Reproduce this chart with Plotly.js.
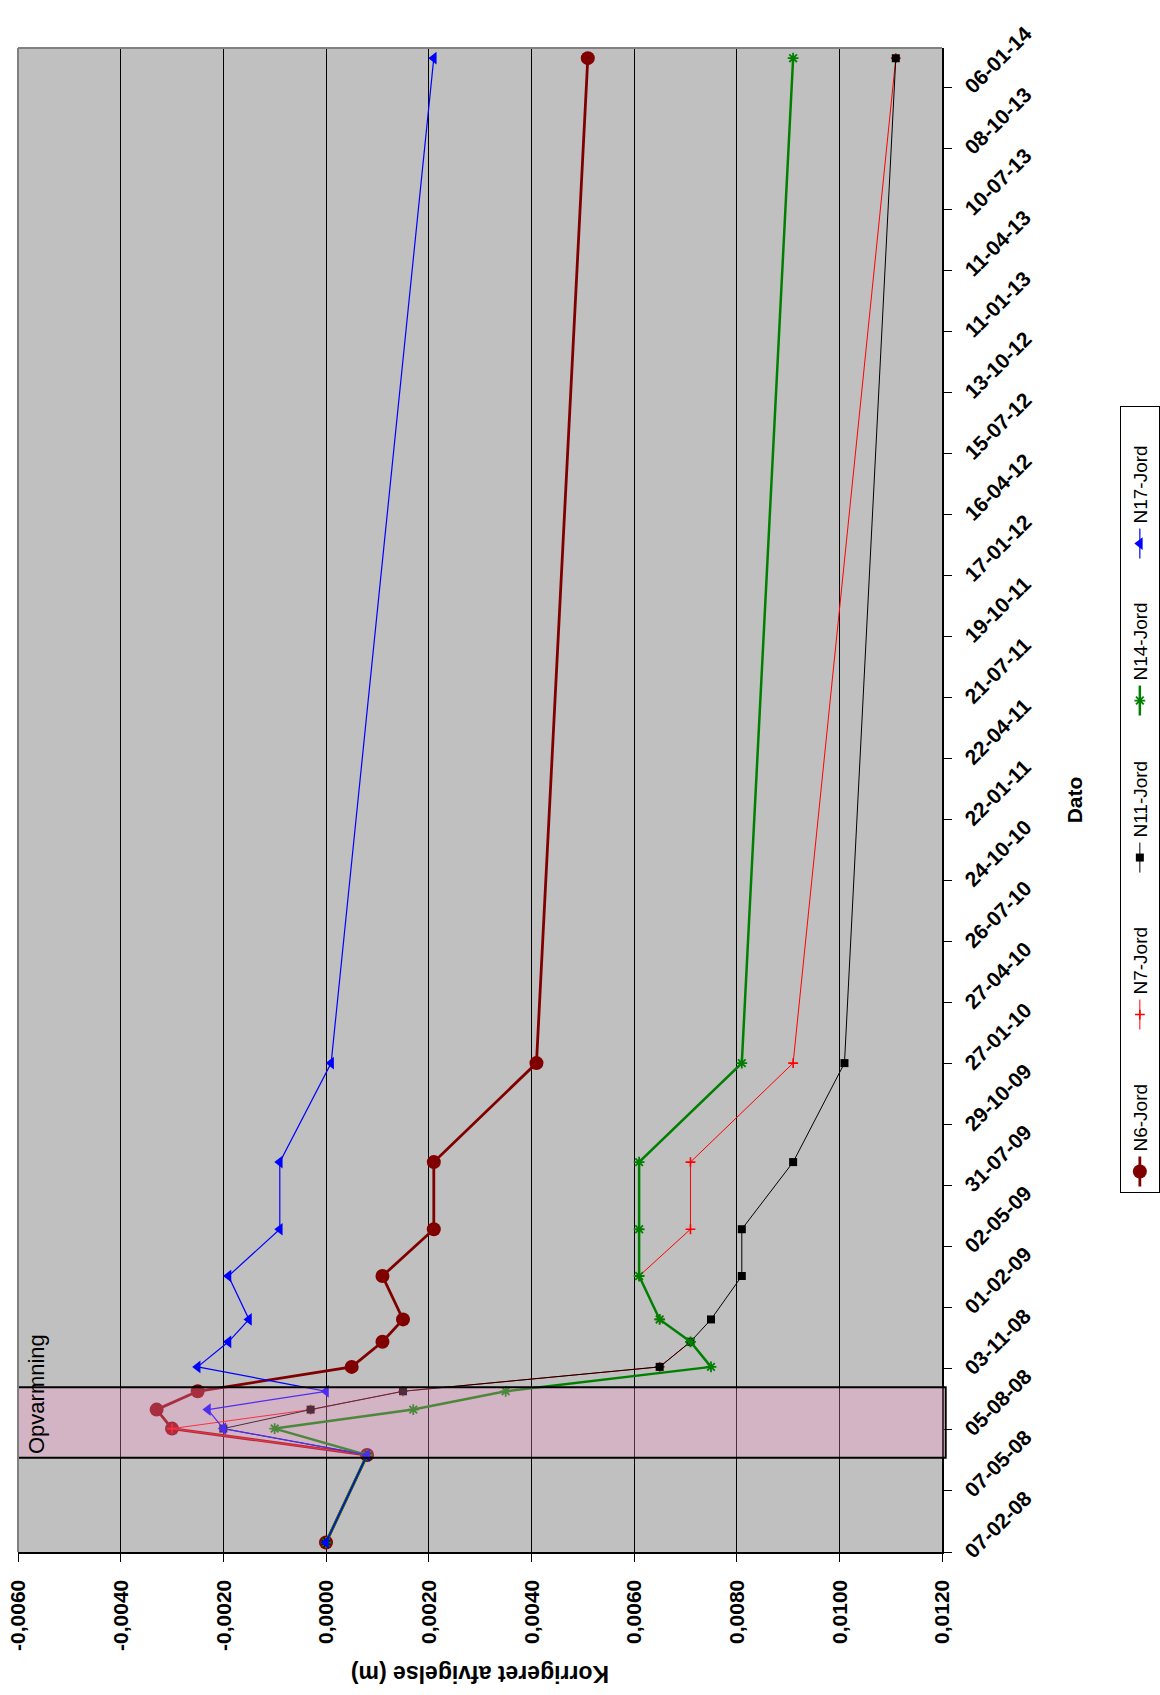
<!DOCTYPE html>
<html>
<head>
<meta charset="utf-8">
<script src="https://cdn.plot.ly/plotly-3.0.1.min.js"></script>
<style>
  html, body { margin: 0; padding: 0; background: #fff; overflow: hidden; width: 1160px; height: 1695px; }
  /* The chart is laid out landscape and turned a quarter turn counter-clockwise onto the portrait page */
  #chart { position: absolute; left: 0; top: 0; width: 1695px; height: 1160px;
           transform-origin: 0 0; transform: translate(0, 1695px) rotate(-90deg); }
</style>
</head>
<body>
<div id="chart"></div>
<script>
// Measurement dates (dd-mm-yy on the axis)
const dates = ['2008-02-21', '2008-06-29', '2008-08-07', '2008-09-04', '2008-10-01',
               '2008-11-06', '2008-12-13', '2009-01-15', '2009-03-20', '2009-05-28',
               '2009-09-04', '2010-01-28', '2014-02-18'];

// Corrected settlement (m) per benchmark
const n6  = [0.0000, 0.0008, -0.0030, -0.0033, -0.0025, 0.0005, 0.0011, 0.0015, 0.0011, 0.0021, 0.0021, 0.0041, 0.0051];
const n7  = [0.0000, 0.0008, -0.0030, -0.0003, 0.0015, 0.0065, 0.0071, 0.0065, 0.0061, 0.0071, 0.0071, 0.0091, 0.0111];
const n11 = [0.0000, 0.0008, -0.0020, -0.0003, 0.0015, 0.0065, 0.0071, 0.0075, 0.0081, 0.0081, 0.0091, 0.0101, 0.0111];
const n14 = [0.0000, 0.0008, -0.0010, 0.0017, 0.0035, 0.0075, 0.0071, 0.0065, 0.0061, 0.0061, 0.0061, 0.0081, 0.0091];
const n17 = [0.0000, 0.0008, -0.0020, -0.0023, 0.0000, -0.0025, -0.0019, -0.0015, -0.0019, -0.0009, -0.0009, 0.0001, 0.0021];

// Value axis ticks and their Danish-formatted labels
const valueTicks = [-0.006, -0.004, -0.002, 0, 0.002, 0.004, 0.006, 0.008, 0.010, 0.012];
const valueTickText = ['-0,0060', '-0,0040', '-0,0020', '0,0000', '0,0020', '0,0040',
                       '0,0060', '0,0080', '0,0100', '0,0120'];

// Heating period
const heatingStart = '2008-06-25';
const heatingEnd = '2008-10-07';
const heatingLabel = 'Opvarmning';

const FONT = 'Liberation Sans, Arial, sans-serif';

const traces = [
  { name: 'N6-Jord', x: dates, y: n6, mode: 'lines+markers',
    line: { color: '#800000', width: 2.8 },
    marker: { symbol: 'circle', size: 14, color: '#800000' } },
  { name: 'N7-Jord', x: dates, y: n7, mode: 'lines+markers',
    line: { color: '#FF0000', width: 1 },
    marker: { symbol: 'cross-thin-open', size: 7, color: '#FF0000', line: { color: '#FF0000', width: 1.6 } } },
  { name: 'N11-Jord', x: dates, y: n11, mode: 'lines+markers',
    line: { color: '#000000', width: 1 },
    marker: { symbol: 'square', size: 8, color: '#000000' } },
  { name: 'N14-Jord', x: dates, y: n14, mode: 'lines+markers',
    line: { color: '#008000', width: 2.5 },
    marker: { symbol: 'asterisk-open', size: 9, color: '#008000', line: { color: '#008000', width: 1.8 } } },
  { name: 'N17-Jord', x: dates, y: n17, mode: 'lines+markers',
    line: { color: '#0000FF', width: 1.2 },
    marker: { symbol: 'triangle-up', size: 11, color: '#0000FF' } }
];

const layout = {
  width: 1695,
  height: 1160,
  margin: { l: 143, r: 48, t: 18, b: 218, pad: 0, autoexpand: false },
  paper_bgcolor: '#FFFFFF',
  plot_bgcolor: '#C0C0C0',
  font: { family: FONT, color: '#000000' },
  showlegend: true,
  xaxis: {
    type: 'date',
    range: ['2008-02-07', '2014-03-05'],
    tick0: '2008-02-07',
    dtick: 90 * 86400000,
    tickformat: '%d-%m-%y',
    tickangle: 45,
    tickfont: { family: FONT, size: 21, weight: 'bold', color: '#000' },
    showgrid: false,
    zeroline: false,
    showline: true, linecolor: '#000', linewidth: 1.5,
    ticks: 'outside', ticklen: 8, tickcolor: '#000', tickwidth: 1,
    automargin: false,
    title: { text: 'Dato', font: { family: FONT, size: 21, weight: 'bold', color: '#000' }, standoff: 32 }
  },
  yaxis: {
    range: [0.012, -0.006],
    tickmode: 'array',
    tickvals: valueTicks,
    ticktext: valueTickText,
    tickfont: { family: FONT, size: 21, weight: 'bold', color: '#000' },
    showgrid: true, gridcolor: '#000', gridwidth: 1,
    zeroline: false,
    showline: true, linecolor: '#000', linewidth: 1.5,
    ticks: 'outside', ticklen: 8, tickcolor: '#000', tickwidth: 1,
    ticklabelstandoff: 14,
    automargin: false,
    title: { text: 'Korrigeret afvigelse (m)', font: { family: FONT, size: 23, weight: 'bold', color: '#000' }, standoff: 8 }
  },
  legend: {
    orientation: 'h',
    xref: 'paper', x: 0.239, xanchor: 'left',
    yref: 'container', y: 0, yanchor: 'bottom',
    bgcolor: '#FFFFFF',
    bordercolor: '#000000', borderwidth: 1,
    font: { family: FONT, size: 19, color: '#000' },
    entrywidth: 112, entrywidthmode: 'pixels',
    itemwidth: 30
  },
  shapes: [
    { type: 'rect', xref: 'x', yref: 'paper',
      x0: heatingStart, x1: heatingEnd, y0: -0.004, y1: 1,
      fillcolor: 'rgba(255,153,204,0.3)',
      line: { color: '#000000', width: 2 }, layer: 'above' },
    { type: 'line', xref: 'paper', yref: 'paper', x0: 0, x1: 1, y0: 1, y1: 1,
      line: { color: '#808080', width: 2 }, layer: 'above' },
    { type: 'line', xref: 'paper', yref: 'paper', x0: 1, x1: 1, y0: 0, y1: 1,
      line: { color: '#808080', width: 2 }, layer: 'above' }
  ],
  annotations: [
    { text: heatingLabel, xref: 'x', yref: 'paper',
      x: '2008-06-28', y: 1, xanchor: 'left', yanchor: 'top', yshift: -4,
      showarrow: false, font: { family: FONT, size: 22, color: '#000' } }
  ]
};

Plotly.newPlot('chart', traces, layout, { displayModeBar: false, staticPlot: true });
</script>
</body>
</html>
